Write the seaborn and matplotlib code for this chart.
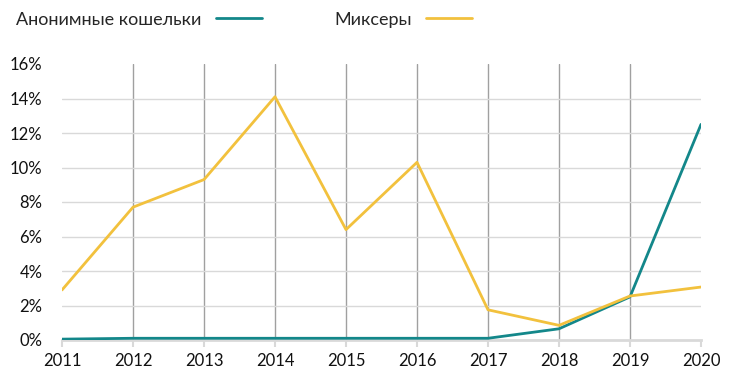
import matplotlib.pyplot as plt
import matplotlib.ticker as mticker
import pandas as pd
import seaborn as sns

years = [2011, 2012, 2013, 2014, 2015, 2016, 2017, 2018, 2019, 2020]
wallets = [0.05, 0.1, 0.1, 0.1, 0.1, 0.1, 0.1, 0.65, 2.5, 12.5]
mixers = [2.9, 7.7, 9.3, 14.1, 6.4, 10.3, 1.75, 0.85, 2.55, 3.07]
series_names = ['Анонимные кошельки', 'Миксеры']

df = pd.DataFrame({
    'year': years * 2,
    'share': wallets + mixers,
    'series': [series_names[0]] * len(years) + [series_names[1]] * len(years),
})

sns.set_theme(style="white")
plt.rcParams['font.family'] = ['Lato', 'DejaVu Sans']

fig = plt.figure(figsize=(7.33, 3.72), dpi=100)
ax = fig.add_axes([62 / 733, 32 / 372, 639 / 733, 276 / 372])

# vertical year lines and horizontal percent lines
for yr in years[1:-1]:
    ax.axvline(yr, color='#a0a0a0', linewidth=1, zorder=0)
for pct in range(2, 16, 2):
    ax.axhline(pct, color='#d9d9d9', linewidth=1, zorder=0)

sns.lineplot(data=df, x='year', y='share', hue='series', hue_order=series_names,
             palette=['#13878a', '#f2c13d'], linewidth=2, ax=ax, legend=False, zorder=3)

ax.set_xlim(2011, 2020)
ax.set_ylim(0, 16)
ax.set_xticks(years)
ax.set_yticks(range(0, 17, 2))
ax.yaxis.set_major_formatter(mticker.FuncFormatter(lambda v, p: f'{int(v)}%'))
ax.set_xlabel('')
ax.set_ylabel('')

for side in ['left', 'right', 'top']:
    ax.spines[side].set_visible(False)
ax.spines['bottom'].set_color('#d9d9d9')
ax.spines['bottom'].set_linewidth(2)
ax.spines['bottom'].set_zorder(1)
ax.tick_params(axis='x', bottom=True, length=5, width=1.5, color='#d9d9d9',
               labelsize=12, labelcolor='#111111', pad=4)
ax.tick_params(axis='y', left=False, labelsize=12, labelcolor='#111111', pad=8)

handles = [plt.Line2D([], [], color='#13878a', linewidth=2),
           plt.Line2D([], [], color='#f2c13d', linewidth=2)]
fig.legend(handles, series_names, loc='upper left', bbox_to_anchor=(0.0, 1.012),
           ncol=2, frameon=False, markerfirst=False, fontsize=13,
           handlelength=2.55, columnspacing=4.0, handletextpad=0.8)

plt.savefig('out.png', dpi=100)
